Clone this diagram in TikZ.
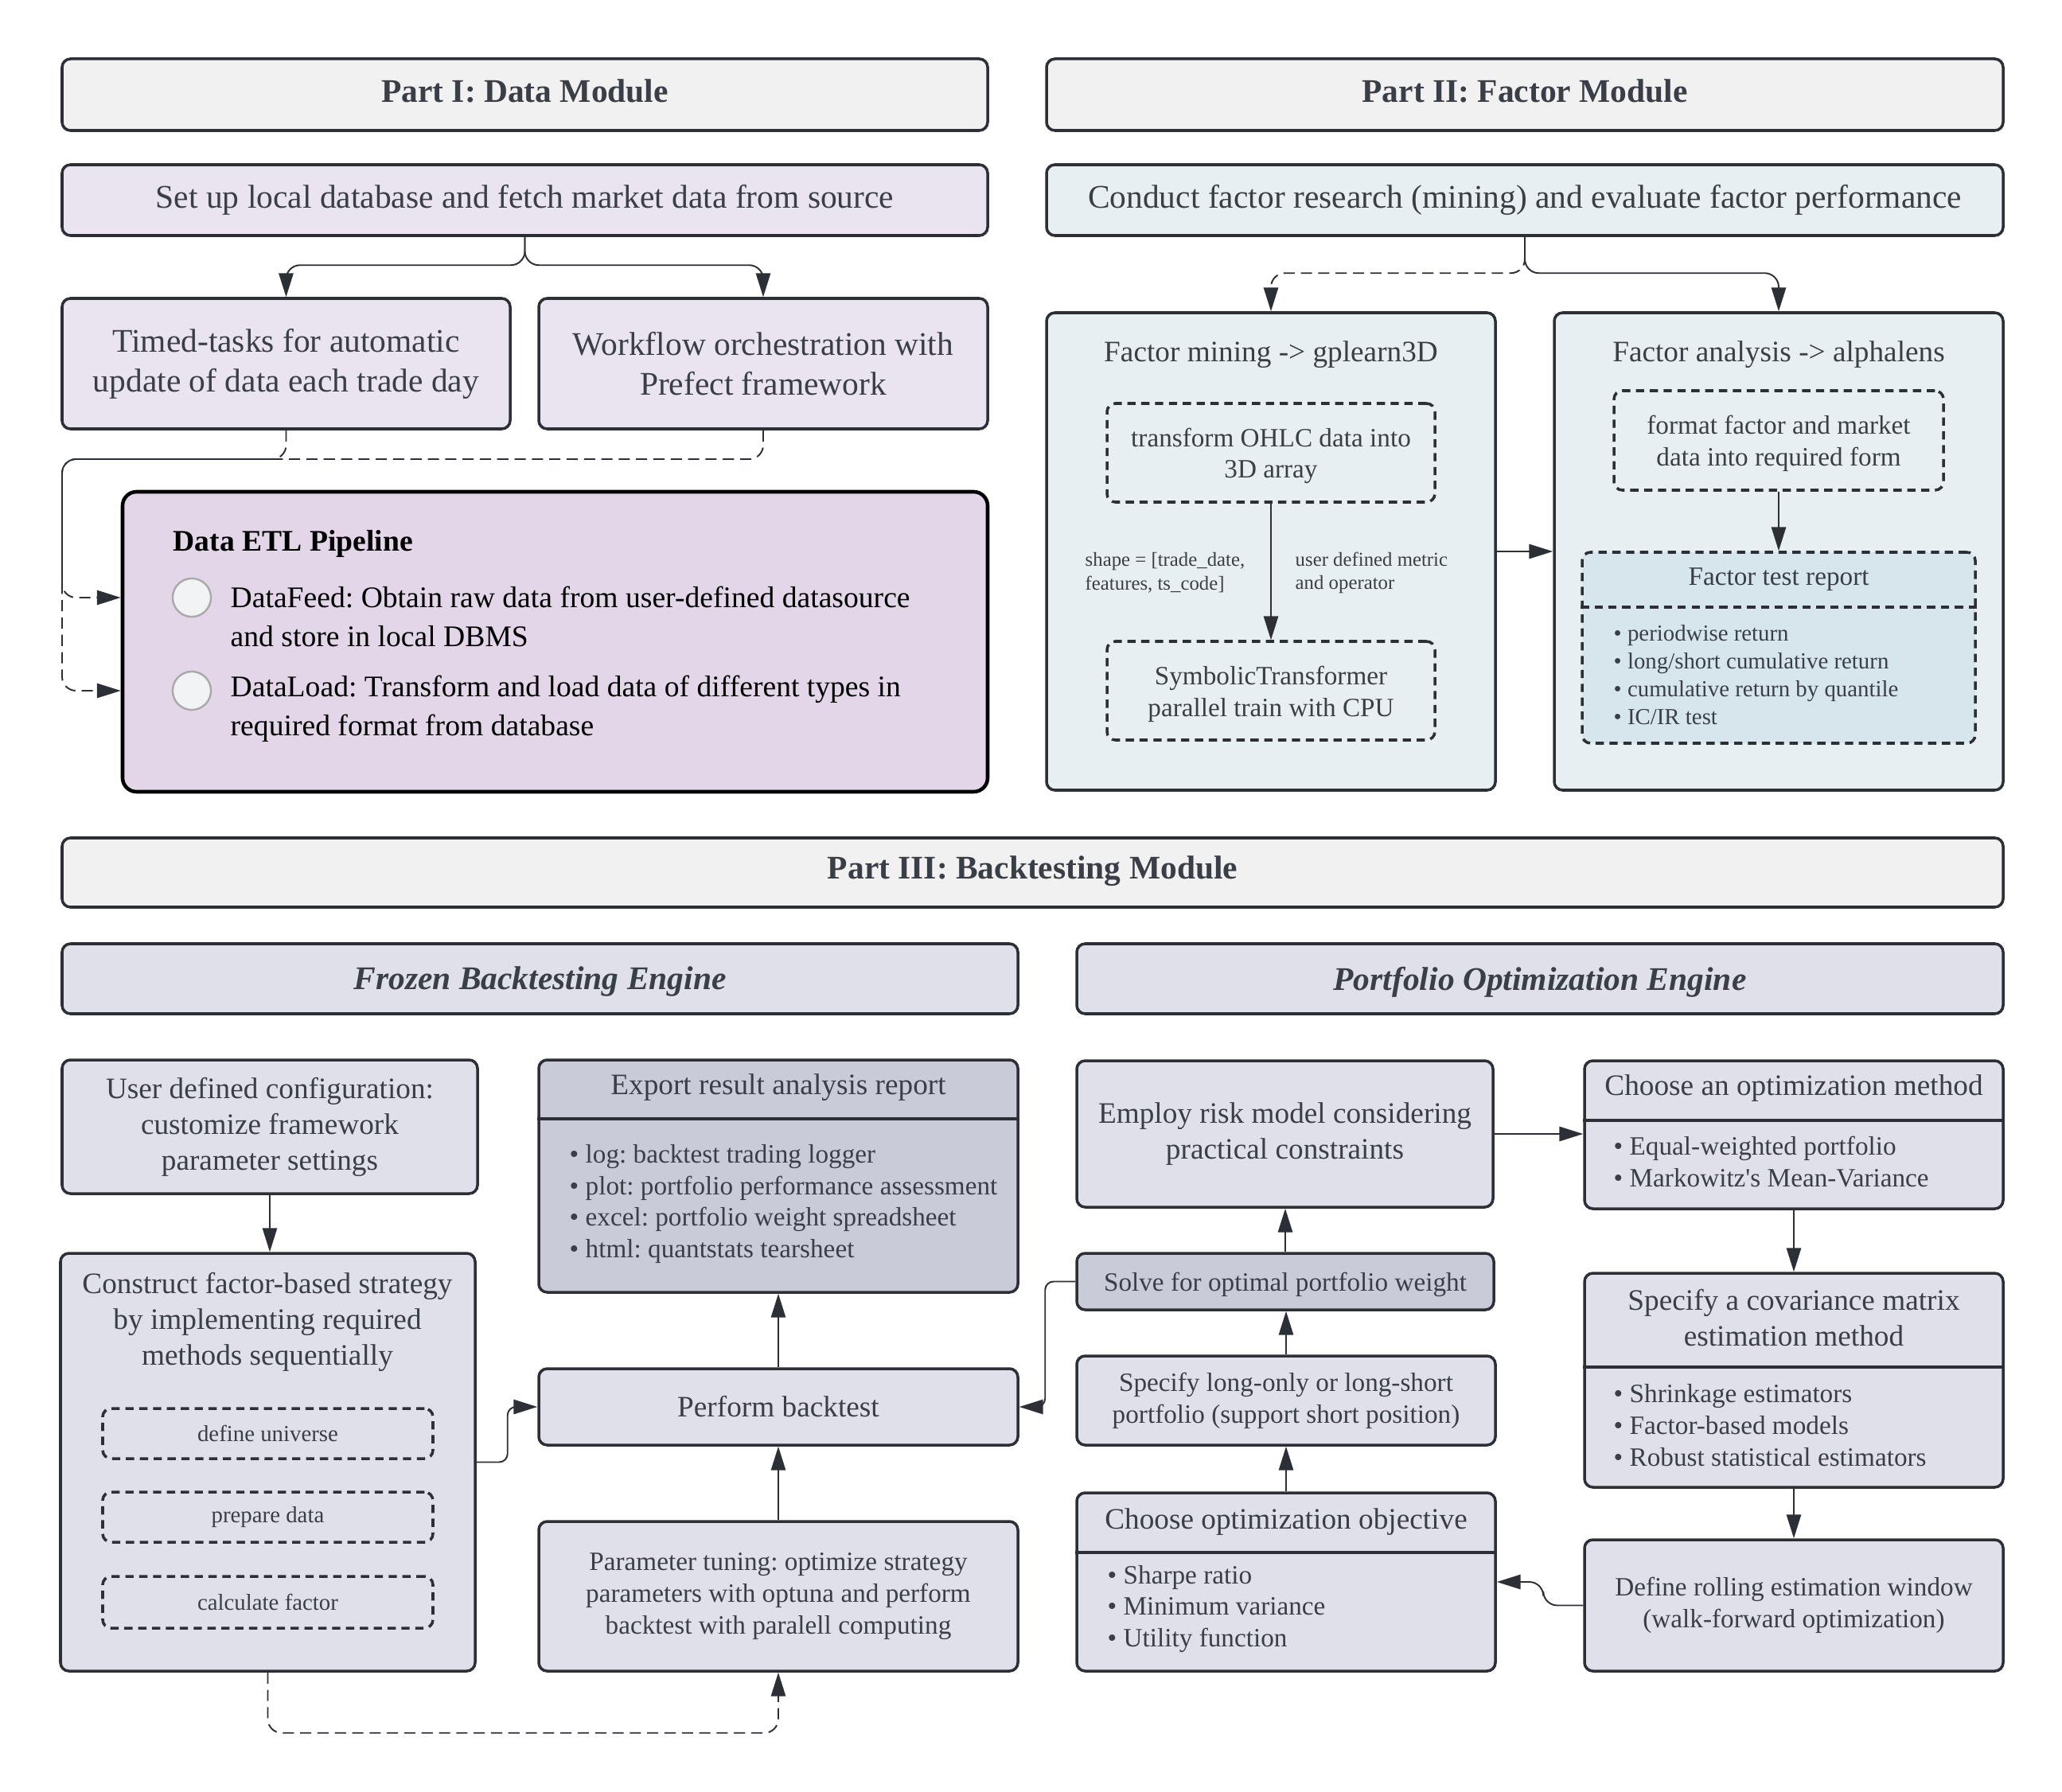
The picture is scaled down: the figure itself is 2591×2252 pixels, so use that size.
\documentclass[tikz,border=0pt]{standalone}
\usepackage{fontspec}
\setmainfont{Liberation Serif}
\newfontfamily\plainserif{Liberation Serif}
\usetikzlibrary{arrows.meta,calc,fit}
\definecolor{ink}{RGB}{44,48,54}
\definecolor{txt}{RGB}{58,63,71}
\definecolor{hdrfill}{RGB}{241,241,241}
\definecolor{lavA}{RGB}{234,227,240}
\definecolor{lavB}{RGB}{226,214,232}
\definecolor{bluA}{RGB}{232,239,242}
\definecolor{bluB}{RGB}{215,229,236}
\definecolor{grA}{RGB}{223,224,233}
\definecolor{grB}{RGB}{201,203,216}
\definecolor{circfill}{RGB}{242,243,245}
\definecolor{circline}{RGB}{170,170,170}
\newcommand\fzH{\fontsize{11.8}{14}\selectfont\bfseries}
\newcommand\fzA{\fontsize{11.8}{14.2}\selectfont}
\newcommand\fzETL{\fontsize{10.7}{13.8}\selectfont}
\newcommand\fzB{\fontsize{10.6}{12.8}\selectfont}
\newcommand\fzC{\fontsize{9.45}{11.3}\selectfont}
\newcommand\fzE{\fontsize{8.2}{9.9}\selectfont}
\newcommand\fzF{\fontsize{7.05}{8.45}\selectfont}
\frenchspacing
\begin{document}
\begin{tikzpicture}[x=0.01cm, y=-0.01cm,
  box/.style={draw=ink, line width=1pt, rounded corners=3pt, inner sep=0pt},
  dbox/.style={box, dash pattern=on 2.95pt off 2pt},
  lbl/.style={inner sep=0pt, text=txt, align=left},
  ctr/.style={inner sep=0pt, text=txt, align=center},
  conn/.style={draw=ink, line width=0.55pt, -{Triangle[length=8.5pt,width=5.2pt]}},
  dconn/.style={conn, dash pattern=on 4pt off 2.2pt},
  divline/.style={draw=ink, line width=1pt},
  ddivline/.style={draw=ink, line width=1pt, dash pattern=on 2.95pt off 2pt},
  dot/.style={circle, draw=circline, fill=circfill, line width=0.7pt, minimum size=13.7pt, inner sep=0pt}]
\useasboundingbox (0,0) rectangle (2591,2252);

% ---------------- Part I ----------------
\node[box, fill=hdrfill, fit={(78,74)(1241,164)}] (p1) {};
\node[ctr, font=\fzH] (p1t) at ($(p1.center)+(0,-5)$) {Part I: Data Module};
\node[box, fill=hdrfill, fit={(1315,74)(2517,164)}] (p2) {};
\node[ctr, font=\fzH] (p2t) at ($(p2.center)+(0,-5)$) {Part II: Factor Module};
\node[box, fill=lavA, fit={(78,207)(1241,296)}] (setup) {};
\node[ctr, font=\fzA] (setupt) at (setup.center) {Set up local database and fetch market data from source};
\node[box, fill=bluA, fit={(1315,207)(2517,296)}] (conduct) {};
\node[ctr, font=\fzA] (conductt) at (conduct.center) {Conduct factor research (mining) and evaluate factor performance};
\node[box, fill=lavA, fit={(78,375)(641,539)}] (timed) {};
\node[ctr, font=\fzA] (timedt) at (timed.center) {Timed-tasks for automatic\\update of data each trade day};
\node[box, fill=lavA, fit={(677,375)(1241,539)}] (workflow) {};
\node[ctr, font=\fzA] (workflowt) at (workflow.center) {Workflow orchestration with\\Prefect framework};

\node[box, draw=black, line width=1.3pt, rounded corners=5pt, fill=lavB, fit={(154,618)(1241,995)}] (etl) {};
\node[lbl, anchor=west, font=\fzETL\bfseries, text=black] (etlt) at (217,683) {Data ETL Pipeline};
\node[dot] (c1) at (241,751) {};
\node[dot] (c2) at (241,868) {};
\node[lbl, anchor=west, font=\fzETL, text=black] (feed) at (289,775) {DataFeed: Obtain raw data from user-defined datasource\\and store in local DBMS};
\node[lbl, anchor=west, font=\fzETL, text=black] (load) at (289,891) {DataLoad: Transform and load data of different types in\\required format from database};

\coordinate (jl) at (78,577);
\coordinate (ya) at (0,751);
\coordinate (yb) at (0,868);
\draw[conn, rounded corners=5pt] (setup.south) |- ($(timed.north)+(0,-40)$) -- (timed.north);
\draw[conn, rounded corners=5pt] (setup.south) |- ($(workflow.north)+(0,-40)$) -- (workflow.north);
\draw[dconn, rounded corners=5pt] (workflow.south) |- (jl) |- (etl.west |- ya);
\draw[dconn, rounded corners=5pt] (timed.south) |- (jl) |- (etl.west |- yb);

% ---------------- Part II ----------------
\node[box, fill=bluA, fit={(1315,393)(1879,993)}] (fmining) {};
\node[box, fill=bluA, fit={(1953,393)(2517,993)}] (fanalysis) {};
\node[ctr, font=\fzB] (fmt) at (1597,446) {Factor mining -> gplearn3D};
\node[ctr, font=\fzB] (fat) at (2235,446) {Factor analysis -> alphalens};
\node[dbox, fit={(1391,507)(1803,631)}] (transform) {};
\node[ctr, font=\fzC] (transformt) at ($(transform.center)+(0,4)$) {transform OHLC data into\\3D array};
\node[dbox, fit={(1391,806)(1803,930)}] (symbolic) {};
\node[ctr, font=\fzC] (symbolict) at ($(symbolic.center)+(0,4)$) {SymbolicTransformer\\parallel train with CPU};
\node[lbl, anchor=west, font=\fzF] (shp) at (1363,720) {shape = [trade\_date,\\features, ts\_code]};
\node[lbl, anchor=west, font=\fzF] (udm) at (1627,720) {user defined metric\\and operator};
\node[dbox, fit={(2028,491)(2442,616)}] (format) {};
\node[ctr, font=\fzC] (formatt) at ($(format.center)+(0,4)$) {format factor and market\\data into required form};
\node[dbox, fill=bluB, fit={(1988,694)(2482,934)}] (ftr) {};
\coordinate (dvF) at (0,763);
\draw[ddivline] (ftr.west |- dvF) -- (ftr.east |- dvF);
\node[ctr, font=\fzC] (ftrt) at (2235,728) {Factor test report};
\node[lbl, anchor=west, font=\fzE] (ftrl) at (2027,848) {• periodwise return\\• long/short cumulative return\\• cumulative return by quantile\\• IC/IR test};

\draw[conn, rounded corners=5pt] (conduct.south) |- ($(fanalysis.north)+(0,-48)$) -- (fanalysis.north);
\draw[dconn, rounded corners=5pt] (conduct.south) |- ($(fmining.north)+(0,-48)$) -- (fmining.north);
\draw[conn] (fmining.east) -- (fanalysis.west);
\draw[conn] (transform.south) -- (symbolic.north);
\draw[conn] (format.south) -- (ftr.north);

% ---------------- Part III ----------------
\node[box, fill=hdrfill, fit={(78,1053)(2517,1140)}] (p3) {};
\node[ctr, font=\fzH] (p3t) at ($(p3.center)+(0,-2)$) {Part III: Backtesting Module};
\node[box, fill=grA, fit={(78,1186)(1279,1274)}] (frozen) {};
\node[ctr, font=\fzH\itshape] (frozent) at ($(frozen.center)+(0,4)$) {Frozen Backtesting Engine};
\node[box, fill=grA, fit={(1353,1186)(2517,1274)}] (poe) {};
\node[ctr, font=\fzH\itshape] (poet) at ($(poe.center)+(0,4)$) {Portfolio Optimization Engine};

\node[box, fill=grA, fit={(78,1332)(600,1500)}] (user) {};
\node[ctr, font=\fzB] (usert) at (user.center) {User defined configuration:\\customize framework\\parameter settings};
\node[box, fill=grB, fit={(677,1332)(1279,1624)}] (export) {};
\coordinate (dvE) at (0,1406);
\draw[divline] (export.west |- dvE) -- (export.east |- dvE);
\node[ctr, font=\fzB] (expt) at (978,1367) {Export result analysis report};
\node[lbl, anchor=west, font=\fzC] (expl) at (715,1513) {• log: backtest trading logger\\• plot: portfolio performance assessment\\• excel: portfolio weight spreadsheet\\• html: quantstats tearsheet};

\node[box, fill=grA, fit={(76,1575)(597,2100)}] (construct) {};
\node[ctr, font=\fzB] (constt) at (336,1661) {Construct factor-based strategy\\by implementing required\\methods sequentially};
\node[dbox, fit={(129,1770)(544,1833)}] (universe) {};
\node[ctr, font=\fzE] (universet) at (universe.center) {define universe};
\node[dbox, fit={(129,1875)(544,1938)}] (prepare) {};
\node[ctr, font=\fzE] (preparet) at (prepare.center) {prepare data};
\node[dbox, fit={(129,1981)(544,2046)}] (calcf) {};
\node[ctr, font=\fzE] (calcft) at (calcf.center) {calculate factor};

\node[box, fill=grA, fit={(677,1720)(1279,1816)}] (perform) {};
\node[ctr, font=\fzB] (performt) at (perform.center) {Perform backtest};
\node[box, fill=grA, fit={(677,1912)(1279,2100)}] (tuning) {};
\node[ctr, font=\fzC] (tuningt) at (tuning.center) {Parameter tuning: optimize strategy\\parameters with optuna and perform\\backtest with paralell computing};

\node[box, fill=grA, fit={(1353,1333)(1876,1517)}] (employ) {};
\node[ctr, font=\fzB] (employt) at (employ.center) {Employ risk model considering\\practical constraints};
\node[box, fill=grB, fit={(1353,1575)(1877,1646)}] (solve) {};
\node[ctr, font=\fzC] (solvet) at ($(solve.center)+(0,4)$) {Solve for optimal portfolio weight};
\node[box, fill=grA, fit={(1353,1704)(1879,1816)}] (longshort) {};
\node[ctr, font=\fzC] (longshortt) at (longshort.center) {Specify long-only or long-short\\portfolio (support short position)};
\node[box, fill=grA, fit={(1353,1876)(1879,2100)}] (objective) {};
\coordinate (dvO) at (0,1951);
\draw[divline] (objective.west |- dvO) -- (objective.east |- dvO);
\node[ctr, font=\fzB] (objt) at (1616,1913) {Choose optimization objective};
\node[lbl, anchor=west, font=\fzC] (objl) at (1391,2022) {• Sharpe ratio\\• Minimum variance\\• Utility function};

\node[box, fill=grA, fit={(1991,1333)(2517,1519)}] (method) {};
\coordinate (dvM) at (0,1408);
\draw[divline] (method.west |- dvM) -- (method.east |- dvM);
\node[ctr, font=\fzB] (metht) at (2254,1368) {Choose an optimization method};
\node[lbl, anchor=west, font=\fzC] (methl) at (2027,1460) {• Equal-weighted portfolio\\• Markowitz{\plainserif'}s Mean-Variance};

\node[box, fill=grA, fit={(1991,1600)(2517,1869)}] (cov) {};
\coordinate (dvC) at (0,1718);
\draw[divline] (cov.west |- dvC) -- (cov.east |- dvC);
\node[ctr, font=\fzB] (covt) at (2254,1656) {Specify a covariance matrix\\estimation method};
\node[lbl, anchor=west, font=\fzC] (covl) at (2027,1791) {• Shrinkage estimators\\• Factor-based models\\• Robust statistical estimators};

\node[box, fill=grA, fit={(1991,1935)(2517,2100)}] (rolling) {};
\node[ctr, font=\fzC] (rollingt) at (rolling.center) {Define rolling estimation window\\(walk-forward optimization)};

% connectors Part III
\draw[conn] (user.south) -- (user.south |- construct.north);
\draw[conn, rounded corners=3pt] (construct.east) -- ++(39,0) |- (perform.west);
\draw[conn] (perform.north) -- (export.south);
\draw[conn] (tuning.north) -- (perform.south);
\draw[dconn, rounded corners=5pt] (construct.south) -- ++(0,76) -| (tuning.south);
\draw[conn, rounded corners=3pt] (solve.west) -- ++(-38,0) |- (perform.east);
\draw[conn] (solve.north) -- (solve.north |- employ.south);
\draw[conn] (longshort.north) -- (longshort.north |- solve.south);
\draw[conn] (objective.north) -- (objective.north |- longshort.south);
\draw[conn] (employ.east) -- (employ.east -| method.west);
\draw[conn] (method.south) -- (method.south |- cov.north);
\draw[conn] (cov.south) -- (cov.south |- rolling.north);
\draw[conn, rounded corners=5pt] (rolling.west) -- ++(-50,0) |- (objective.east);
\end{tikzpicture}
\end{document}
